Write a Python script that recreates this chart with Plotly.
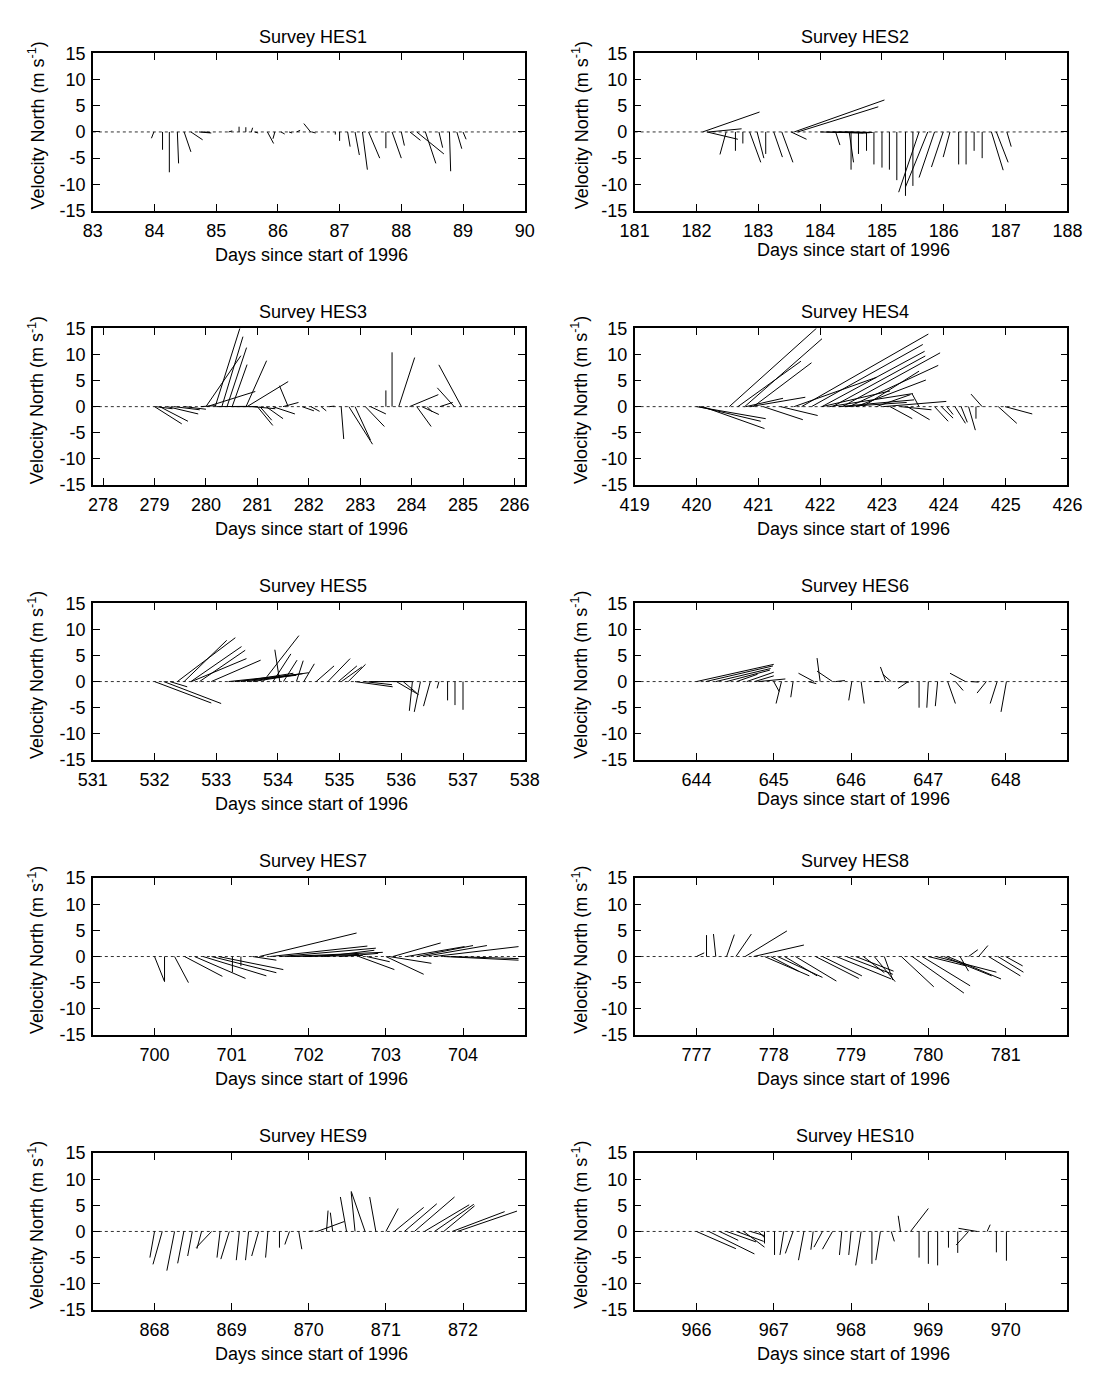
import plotly.graph_objects as go

# stick plot: each stick starts at (t, 0) and ends at (t + K*u, v)
K = 0.1  # days of x-offset per m/s of eastward velocity

hes1_t = [83.99, 84.13, 84.24, 84.37, 84.48, 84.59, 84.72, 84.80, 85.20, 85.37, 85.48, 85.57, 85.62, 85.83, 85.95, 86.05,
          86.18, 86.30, 86.53, 86.55, 86.93, 87.00, 87.13, 87.25, 87.37, 87.47, 87.75, 87.85, 88.00, 88.14, 88.25, 88.39,
          88.61, 88.78, 88.90, 89.00]
hes1_u = [-0.4, 0, 0, 0.2, 1.1, 1.9, 2.0, 1.0, 0.6, 0, 0, 0.2, 0.6, 1.0, -0.3, 0.6,
          0.5, 0.6, -1.1, 0.6, 0, 0, 0.4, 0.7, 0.8, 1.8, 0, 1.5, 0.5, 1.7, 4.4, 1.7,
          0.6, 0.2, 0.8, 0.5]
hes1_v = [-1.2, -3.4, -7.7, -6.0, -3.8, -1.5, -0.2, -0.1, 0.2, 1.0, 0.9, 0.8, -0.2, -2.2, -1.3, -0.4,
          -0.2, 0.3, 1.6, -0.2, -0.5, -1.7, -2.8, -4.4, -7.2, -5.0, -3.1, -5.0, -2.6, -1.6, -4.2, -6.0,
          -3.0, -7.5, -3.2, -1.4]

hes2_t = [182.10, 182.20, 182.17, 182.48, 182.63, 182.75, 182.86, 182.98, 183.12, 183.25, 183.38, 183.53, 183.58, 183.64,
          184.00, 184.10, 184.20, 184.30, 184.40, 184.25, 184.47, 184.50, 184.62, 184.75, 184.87, 185.00, 185.12, 185.24,
          185.38, 185.50, 185.60, 185.74, 185.85, 185.99, 186.10, 186.24, 186.36, 186.49, 186.62, 186.77, 186.85, 187.02]
hes2_u = [9.2, 5.3, 5.0, -1.0, 0, 0, 1.8, 1.1, 0, 1.4, 1.8, 2.5, 14.6, 13.0,
          7.0, 6.5, 6.0, 5.5, 4.0, 0.7, 0.7, 0, 0, 0, 0, 0, 0, 0,
          0, 0, -3.3, -3.6, -2.5, -1.9, -1.1, 0, 0, 0, 0, 1.9, 1.9, 0.7]
hes2_v = [3.8, 0.6, -1.4, -4.3, -3.6, -2.2, -5.8, -5.0, -4.2, -4.8, -5.8, -1.4, 6.1, 4.8,
          -0.2, -0.2, -0.15, -0.1, -0.1, -2.5, -5.8, -7.2, -4.2, -3.6, -6.2, -6.8, -7.2, -9.2,
          -12.2, -10.3, -11.5, -10.5, -8.7, -6.7, -4.8, -6.2, -6.2, -3.6, -5.0, -7.3, -5.8, -2.8]

hes3_t = [279.00, 279.10, 279.25, 279.02, 279.38, 279.58, 279.90, 280.18, 280.31, 280.41, 280.00, 280.51, 280.78, 280.02,
          280.80, 281.60, 281.50, 280.20, 280.50, 281.00, 281.05, 281.17, 281.30, 280.90, 281.87, 282.04, 282.24, 282.40,
          282.63, 282.78, 282.90, 283.10, 283.20, 283.50, 283.62, 283.75, 283.96, 284.10, 284.20, 284.83, 284.97, 284.30,
          284.55]
hes3_u = [5.3, 5.5, 6.0, 3.3, 5.0, 4.2, 3.0, 4.8, 4.1, 3.8, 6.8, 2.9, 4.0, 9.4,
          8.0, -1.7, 3.0, 6.0, 5.0, 3.0, 2.3, 3.3, 4.3, 4.5, 2.3, 1.7, 1.0, 1.0,
          0.5, 4.6, 3.0, 3.7, 3.0, 0, 0, 3.1, 5.6, 2.8, 3.3, -3.3, -4.4, 1.0,
          2.5]
hes3_v = [-3.3, -2.8, -1.4, -0.4, -0.6, -0.5, 0.2, 15.0, 13.4, 11.3, 9.75, 8.05, 8.8, 2.9,
          4.8, 4.0, 0.8, 0.05, 0.0, -3.6, -2.6, -2.3, -1.4, -0.4, -0.8, -0.9, -0.8, 0.1,
          -6.2, -7.2, -6.4, -3.8, -1.4, 3.1, 10.4, 9.4, 2.3, -3.8, -1.5, 3.6, 8.0, -1.0,
          0.8]

hes4_t = [420.00, 420.04, 420.10, 420.53, 420.67, 420.78, 420.92, 420.80, 420.87, 421.08, 421.36, 421.58, 421.70, 421.86,
          422.03, 422.20, 422.36, 422.47, 422.58, 422.69, 422.91, 422.03, 422.30, 423.02, 423.60, 423.13, 423.41, 423.85,
          423.96, 424.18, 424.40, 424.52, 424.62, 424.88, 424.99, 422.15, 422.40, 423.30, 424.05, 424.28]
hes4_u = [11.2, 10.0, 10.0, 14.1, 10.2, 12.5, 9.4, 6.0, 8.9, 6.4, 6.0, 13.3, 20.5, 18.0,
          16.6, 15.0, 15.8, 14.4, 11.3, 9.1, 5.5, 11.0, 12.2, 10.2, -1.1, 3.6, 3.6, 2.2,
          1.9, 1.7, 1.1, 0, -1.8, 3.0, 4.4, 13.5, 10.0, 5.0, 1.0, 1.0]
hes4_v = [-2.3, -2.8, -4.2, 15.0, 8.7, 13.0, 8.4, 1.6, 1.8, -2.5, -1.7, 5.6, 13.9, 11.9,
          10.6, 9.7, 10.3, 7.9, 5.1, 6.8, 2.3, 3.0, 1.3, 1.0, 2.4, -2.3, -2.5, -2.8,
          -2.2, -3.2, -4.5, -2.3, 2.4, -3.2, -1.4, 2.5, 0.8, -0.6, -1.5, -3.0]

hes5_t = [532.00, 532.15, 532.25, 532.37, 532.48, 532.59, 532.73, 532.60, 532.92, 533.20, 533.30, 533.40, 533.50, 533.60,
          534.03, 533.76, 533.92, 534.09, 534.30, 534.42, 534.62, 534.81, 534.98, 535.14, 535.03, 535.25, 535.40, 535.50,
          535.92, 536.03, 536.18, 536.31, 536.47, 536.61, 536.75, 536.87, 537.00]
hes5_u = [9.2, 9.3, 2.8, 9.4, 6.9, 8.2, 7.4, 8.9, 8.0, 12.0, 10.0, 8.5, 10.0, 7.0,
          -0.8, 5.8, 2.9, 2.2, 1.1, 1.7, 2.9, 3.6, 3.0, 2.8, 3.3, 6.1, 4.5, 6.7,
          3.6, 2.2, -0.5, -1.0, -1.1, -0.3, 0, 0, 0]
hes5_v = [-4.1, -4.2, -1.0, 8.4, 7.9, 6.7, 6.0, 4.4, 4.1, 1.5, 1.2, 1.6, 1.7, 1.3,
          6.1, 8.8, 5.3, 4.1, 4.0, 3.4, 3.0, 4.4, 3.0, 3.3, 2.8, -1.0, -0.6, 0.0,
          -2.5, -2.2, -5.6, -5.8, -4.7, -1.3, -3.6, -4.5, -5.4]

hes6_t = [644.00, 644.12, 644.25, 644.39, 644.52, 644.65, 644.75, 644.80, 645.00, 645.10, 645.25, 645.52, 645.60, 645.45,
          645.76, 645.80, 646.01, 646.13, 646.30, 646.45, 646.52, 646.74, 646.60, 646.88, 647.00, 647.12, 647.25, 647.48,
          647.35, 647.55, 647.75, 647.89, 648.01]
hes6_u = [10.0, 8.7, 7.1, 5.6, 2.7, 3.5, 2.5, 3.5, 0.7, -0.7, -0.3, -2.0, -0.4, 1.0,
          -2.0, 1.2, -0.4, 0.4, 0.7, -0.7, -1.1, -1.3, 1.5, 0, -0.2, -0.3, 1.0, -2.0,
          1.0, 1.0, -1.2, -0.9, -0.7]
hes6_v = [3.3, 3.0, 2.5, 2.2, 1.4, 1.8, 1.1, 0.5, -1.9, -4.2, -3.0, 1.6, 4.5, -0.4,
          2.0, 0.2, -3.6, -4.2, 0.0, 2.8, 1.4, -1.3, -0.1, -5.0, -5.0, -4.7, -4.2, 1.6,
          -1.7, -0.1, -2.2, -4.2, -5.8]

hes7_t = [700.00, 700.13, 700.26, 700.39, 700.52, 700.63, 700.74, 700.83, 701.01, 701.12, 701.27, 701.36, 701.50, 701.63,
          701.72, 701.80, 701.95, 702.65, 702.75, 703.00, 703.04, 703.09, 703.27, 703.40, 703.49, 703.62, 703.75, 703.84,
          702.20, 702.40]
hes7_u = [1.3, 0, 1.8, 4.9, 6.6, 8.2, 8.4, 8.4, 0, 0, 3.1, 12.6, 12.6, 12.4,
          12.4, 8.5, 7.5, 4.6, 3.0, 4.9, 5.5, 6.2, 7.5, 7.3, 8.2, 11.0, 9.7, 8.8,
          6.5, 5.0]
hes7_v = [-4.8, -4.8, -5.0, -3.8, -4.2, -3.7, -3.1, -2.5, -3.0, -1.8, -0.7, 4.5, 2.0, 1.6,
          0.8, 0.4, 0.2, -2.5, -1.0, -3.4, -1.3, 2.6, 1.9, 2.1, 2.1, 1.9, -0.7, -0.4,
          1.2, 0.6]

hes8_t = [777.00, 777.13, 777.25, 777.39, 777.51, 777.63, 777.74, 777.88, 777.96, 778.05, 778.14, 778.28, 778.54, 778.63,
          778.81, 778.94, 779.06, 779.16, 779.30, 779.43, 779.65, 779.79, 779.92, 780.00, 780.10, 780.20, 780.25, 780.41,
          780.52, 780.65, 780.78, 780.90, 781.00]
hes8_u = [1.0, 0, -0.3, 1.0, 2.0, 5.4, 6.5, 5.8, 3.6, 5.8, 4.2, 5.3, 5.6, 5.1,
          7.1, 6.0, 4.9, 2.7, 2.7, 1.1, 4.2, 6.7, 6.2, 4.9, 7.8, 6.2, 6.9, 1.1,
          1.2, 1.2, 4.1, 3.3, 2.2]
hes8_v = [0.7, 4.1, 4.3, 4.2, 4.3, 4.9, 2.2, -3.7, -2.8, -4.0, -3.7, -4.7, -4.2, -3.7,
          -4.3, -3.4, -2.8, -3.1, -4.8, -4.5, -5.8, -7.0, -5.6, -1.8, -3.0, -3.7, -4.3, -2.8,
          1.3, 2.1, -3.7, -3.0, -1.8]

hes9_t = [868.00, 868.10, 868.26, 868.38, 868.49, 868.61, 868.74, 868.85, 868.97, 869.10, 869.22, 869.35, 869.47, 869.62,
          869.75, 869.87, 870.00, 870.11, 870.23, 870.31, 870.49, 870.60, 870.73, 870.87, 871.00, 871.11, 871.24, 871.37,
          871.50, 871.63, 871.75, 871.86, 871.93]
hes9_u = [-0.6, -1.2, -1.0, -0.8, -0.6, -0.6, -2.0, -0.4, -1.1, -0.4, -0.4, -0.9, -0.3, 0,
          -0.6, 0.4, 0.6, 3.5, 0.2, -0.3, -0.8, -0.5, -1.8, -0.8, 1.6, 3.8, 4.2, 5.2,
          5.8, 5.1, 4.0, 6.8, 7.7]
hes9_v = [-5.0, -6.3, -7.5, -6.1, -4.7, -3.3, -3.1, -5.0, -5.3, -5.5, -5.5, -4.7, -5.0, -3.1,
          -2.5, -3.4, 0.1, 1.9, 4.0, 3.6, 6.6, 7.5, 7.7, 6.6, 4.4, 4.6, 5.3, 6.6,
          5.1, 5.2, 4.9, 3.8, 3.9]

hes10_t = [966.00, 966.16, 966.30, 966.39, 966.52, 966.61, 966.70, 966.80, 966.88, 967.01, 967.13, 967.25, 967.39, 967.51,
           967.63, 967.76, 967.88, 968.00, 968.13, 968.27, 968.38, 968.52, 968.64, 968.77, 968.88, 969.00, 969.12, 969.26,
           969.38, 969.52, 969.63, 969.76, 969.88, 970.01]
hes10_u = [5.1, 5.9, 2.4, 3.8, 3.5, 2.7, 1.8, 0.8, 0, 0, -0.5, -1.0, -0.7, -0.3,
           -1.1, -1.3, -0.3, -0.3, -0.7, 0, -0.6, 0.4, -0.3, 2.3, 0, 0, 0, 0,
           0, -1.6, -2.4, 0.4, 0, 0]
hes10_v = [-3.3, -4.3, -1.7, -2.0, -1.9, -3.0, -0.8, -1.2, -2.3, -4.5, -4.5, -4.2, -5.5, -3.5,
           -3.0, -3.4, -4.5, -4.5, -6.5, -6.2, -5.5, -1.9, 3.0, 4.4, -5.0, -6.2, -6.5, -3.1,
           -4.1, -2.6, 0.6, 1.3, -4.0, -5.6]

survey_names = ["Survey HES1", "Survey HES2", "Survey HES3", "Survey HES4", "Survey HES5",
                "Survey HES6", "Survey HES7", "Survey HES8", "Survey HES9", "Survey HES10"]
x_ranges = [[83, 90], [181, 188], [277.8, 286.2], [419, 426], [531, 538],
            [643.2, 648.8], [699.2, 704.8], [776.2, 781.8], [867.2, 872.8], [965.2, 970.8]]
series = [(hes1_t, hes1_u, hes1_v), (hes2_t, hes2_u, hes2_v), (hes3_t, hes3_u, hes3_v),
          (hes4_t, hes4_u, hes4_v), (hes5_t, hes5_u, hes5_v), (hes6_t, hes6_u, hes6_v),
          (hes7_t, hes7_u, hes7_v), (hes8_t, hes8_u, hes8_v), (hes9_t, hes9_u, hes9_v),
          (hes10_t, hes10_u, hes10_v)]

y_tick_vals = [-15, -10, -5, 0, 5, 10, 15]
y_tick_text = ["-15", "-10", "-5", "0", "5", "10", "15"]

X_TITLE = "Days since start of 1996"
Y_TITLE = "Velocity North (m s<sup>-1</sup>)"

W, H = 1100, 1374
FONT = "Liberation Sans, Arial, Helvetica, sans-serif"
FS = 18
col_px = [(80, 524), (637, 1082)]
row_px = [(44, 203.5), (323, 482), (602, 761), (881, 1040), (1160, 1319)]

fig = go.Figure()
annotations = []
shapes = []

axis_common = dict(showline=True, linecolor="black", linewidth=1.5, mirror="ticks",
                   ticks="inside", ticklen=7, tickwidth=1, tickcolor="black",
                   showgrid=False, zeroline=False,
                   tickfont=dict(family=FONT, size=FS, color="black"))

for i, (name, (t, u, v), xr) in enumerate(zip(survey_names, series, x_ranges)):
    r, c = divmod(i, 2)
    n = i + 1
    xs = "" if n == 1 else str(n)
    x0p, x1p = col_px[c]
    y0p, y1p = row_px[r]

    xx, yy = [], []
    for ti, ui, vi in zip(t, u, v):
        xx += [ti, ti + K * ui, None]
        yy += [0, vi, None]
    fig.add_trace(go.Scatter(x=xx, y=yy, mode="lines",
                             line=dict(color="black", width=1),
                             xaxis="x" + xs, yaxis="y" + xs,
                             showlegend=False, hoverinfo="skip"))

    fig.layout["xaxis" + xs] = dict(domain=[x0p / W, x1p / W], anchor="y" + xs,
                                    range=xr, dtick=1, tick0=0, ticklabelstandoff=3,
                                    **axis_common)
    fig.layout["yaxis" + xs] = dict(domain=[1 - y1p / H, 1 - y0p / H], anchor="x" + xs,
                                    range=[-15, 15], tickmode="array",
                                    tickvals=y_tick_vals, ticktext=y_tick_text,
                                    ticklabelstandoff=2, **axis_common)

    shapes.append(dict(type="line", xref=f"x{xs} domain", yref="y" + xs,
                       x0=0, x1=1, y0=0, y1=0, layer="below",
                       line=dict(color="#333333", width=1, dash="dot")))

    cx = (x0p + x1p) / 2
    cy = (y0p + y1p) / 2
    annotations.append(dict(text=name, x=(cx + 4) / W, y=1 - (y0p - 17) / H,
                            xref="paper", yref="paper", showarrow=False,
                            xanchor="center", yanchor="middle",
                            font=dict(family=FONT, size=FS, color="black")))
    xt_off = 40 if (c == 1 and r in (0, 2)) else 45
    annotations.append(dict(text=X_TITLE, x=(cx + 3) / W, y=1 - (y1p + xt_off) / H,
                            xref="paper", yref="paper", showarrow=False,
                            xanchor="center", yanchor="middle",
                            font=dict(family=FONT, size=FS, color="black")))
    ytx = 22 if c == 0 else 581
    annotations.append(dict(text=Y_TITLE, x=ytx / W, y=1 - (cy - 7) / H,
                            xref="paper", yref="paper", showarrow=False, textangle=-90,
                            xanchor="center", yanchor="middle",
                            font=dict(family=FONT, size=FS, color="black")))

fig.update_layout(width=W, height=H, autosize=False,
                  margin=dict(l=0, r=0, t=0, b=0, pad=0),
                  paper_bgcolor="white", plot_bgcolor="white",
                  annotations=annotations, shapes=shapes, showlegend=False)

fig.write_html("out.html")
